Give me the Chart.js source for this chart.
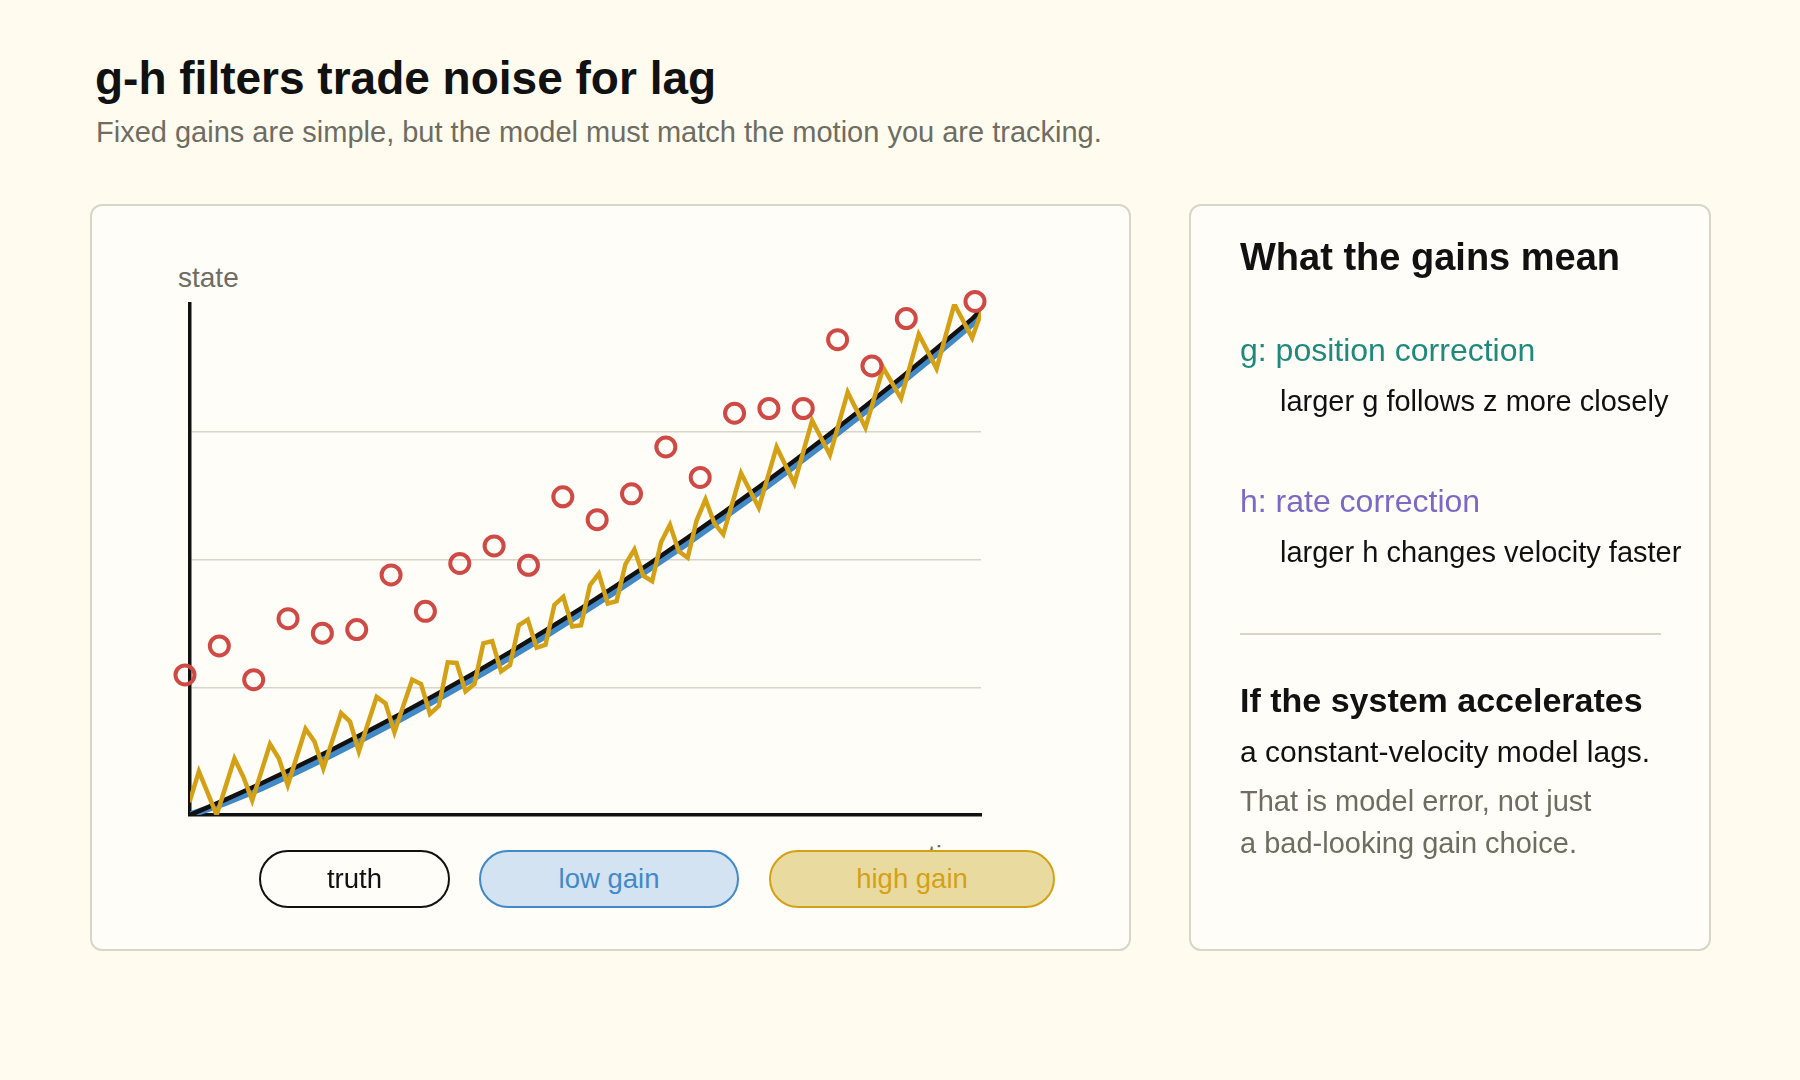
<!DOCTYPE html>
<html>
<head>
<meta charset="utf-8">
<script src="https://cdn.jsdelivr.net/npm/chart.js@4.4.1/dist/chart.umd.min.js"></script>
<style>
  html, body { margin: 0; padding: 0; background: #fffcef; }
  body { width: 1800px; height: 1080px; position: relative; overflow: hidden;
         font-family: "Liberation Sans", Arial, Helvetica, sans-serif; }
  .abs { position: absolute; white-space: nowrap; line-height: 1; }
  .card { position: absolute; box-sizing: border-box; border: 2px solid #d9d5c7;
          border-radius: 12px; background: #fffdf7; }
  #c { position: absolute; left: 0; top: 0; }
  .pill { position: absolute; box-sizing: border-box; height: 58px; border-radius: 29px;
          border: 2.5px solid; display: flex; align-items: center; justify-content: center;
          font-size: 27.5px; line-height: 1; white-space: nowrap; }
</style>
</head>
<body>
<div class="abs" style="left:95px;top:55px;font-size:46px;font-weight:bold;color:#111;">g-h filters trade noise for lag</div>
<div class="abs" style="left:96px;top:118px;font-size:29px;color:#6e6c63;">Fixed gains are simple, but the model must match the motion you are tracking.</div>

<div class="card" style="left:90px;top:204px;width:1041px;height:747px;"></div>
<div class="card" style="left:1189px;top:204px;width:522px;height:747px;"></div>

<div class="abs" style="left:178px;top:264px;font-size:28px;color:#6e6c63;">state</div>
<div class="abs" style="right:819px;top:842px;font-size:28px;color:#6e6c63;">time</div>

<canvas id="c" width="1800" height="1080"></canvas>
<div id="legend"></div>

<div class="abs" style="left:1240px;top:238px;font-size:38px;font-weight:bold;color:#111;">What the gains mean</div>
<div class="abs" style="left:1240px;top:334px;font-size:32px;color:#1f8a7c;">g: position correction</div>
<div class="abs" style="left:1280px;top:387px;font-size:29px;color:#111;">larger g follows z more closely</div>
<div class="abs" style="left:1240px;top:485px;font-size:32px;color:#7b69c6;">h: rate correction</div>
<div class="abs" style="left:1280px;top:538px;font-size:29px;color:#111;">larger h changes velocity faster</div>
<div style="position:absolute;left:1240px;top:633px;width:421px;height:2px;background:#d9d5c7;"></div>
<div class="abs" style="left:1240px;top:683px;font-size:34px;font-weight:bold;color:#111;">If the system accelerates</div>
<div class="abs" style="left:1240px;top:737px;font-size:30px;color:#111;">a constant-velocity model lags.</div>
<div class="abs" style="left:1240px;top:787px;font-size:29px;color:#6e6c63;">That is model error, not just</div>
<div class="abs" style="left:1240px;top:829px;font-size:29px;color:#6e6c63;">a bad-looking gain choice.</div>

<script>
// ---- data ----
// noisy measurements z (one per measurement step)
const measurements = [10.96, 13.23, 10.59, 15.37, 14.23, 14.52, 18.79, 15.94, 19.69, 21.06, 19.55, 24.91,
                      23.12, 25.14, 28.81, 26.42, 31.45, 31.82, 31.82, 37.21, 35.15, 38.86, 41.61, 40.20];

// high-gain estimate, one value per filter sample (0..89)
const highGain = [
  1.14, 3.41, 1.71, 0.00, 2.21, 4.42, 2.99, 1.14, 3.34, 5.55,
  4.42, 2.33, 4.54, 6.75, 5.75, 3.64, 5.80, 7.97, 7.32, 4.98,
  7.12, 9.25, 8.74, 6.49, 8.54, 10.59, 10.25, 7.91, 8.54, 11.95,
  11.90, 9.68, 10.25, 13.43, 13.61, 11.24, 11.73, 14.86, 15.29, 13.10,
  13.32, 16.45, 17.08, 14.75, 14.86, 17.99, 18.90, 16.56, 16.74, 19.64,
  20.78, 18.73, 18.30, 21.35, 22.72, 20.63, 20.13, 23.05, 24.71, 22.83,
  21.97, 24.36, 26.76, 25.40, 24.06, 26.43, 28.81, 27.38, 25.96, 28.42,
  30.88, 29.53, 28.18, 30.64, 33.10, 31.71, 30.32, 32.67, 35.01, 33.80,
  32.60, 35.11, 37.63, 36.29, 34.95, 37.47, 39.99, 38.67, 37.35, 39.28
];

// smooth curves, read at every 4th filter sample
const curveSamples = [0, 4, 8, 12, 16, 20, 24, 28, 32, 36, 40, 44, 48, 52, 56, 60, 64, 68, 72, 76, 80, 84, 88, 89];
const truth   = [0, 1.20, 2.46, 3.77, 5.13, 6.55, 8.02, 9.55, 11.12, 12.75, 14.44, 16.18,
                 17.97, 19.82, 21.71, 23.67, 25.67, 27.73, 29.84, 32.01, 34.23, 36.51, 38.83, 39.55];
const lowGain = [0, 0.98, 2.12, 3.39, 4.75, 6.17, 7.64, 9.17, 10.74, 12.37, 14.06, 15.80,
                 17.59, 19.44, 21.33, 23.29, 25.29, 27.35, 29.46, 31.63, 33.85, 36.13, 38.45, 39.17];

const seriesNames = ['truth', 'low gain', 'high gain'];
const yTicks = [0, 10, 20, 30, 40];

// ---- styles ----
const RED = '#cf4a44', GOLD = '#d4a116', BLUE = '#4189c7', INK = '#111111', GRID = '#d8d4c8';

const pts = (xs, ys) => ys.map((y, i) => ({ x: xs[i], y }));
const sampleIdx = highGain.map((_, i) => i);
const measIdx = measurements.map((_, i) => i);

const chart = new Chart(document.getElementById('c'), {
  type: 'line',
  data: {
    datasets: [
      { label: 'measurements', type: 'scatter', xAxisID: 'xm', data: pts(measIdx, measurements),
        showLine: false, pointRadius: 9.5, pointHoverRadius: 9.5, pointBorderWidth: 4,
        borderColor: RED, backgroundColor: 'rgba(0,0,0,0)', clip: false },
      { label: seriesNames[2], data: pts(sampleIdx, highGain), borderColor: GOLD, borderWidth: 4.5,
        pointRadius: 0, tension: 0, fill: false, borderCapStyle: 'round' },
      { label: seriesNames[0], data: pts(curveSamples, truth), borderColor: INK, borderWidth: 4.5,
        pointRadius: 0, tension: 0, fill: false, borderCapStyle: 'round' },
      { label: seriesNames[1], data: pts(curveSamples, lowGain), borderColor: BLUE, borderWidth: 7,
        pointRadius: 0, tension: 0, fill: false, borderCapStyle: 'round' }
    ]
  },
  options: {
    responsive: false, animation: false, devicePixelRatio: 1,
    events: [],
    layout: { padding: { left: 190, right: 819, top: 304, bottom: 265 } },
    plugins: { legend: { display: false }, tooltip: { enabled: false } },
    scales: {
      x: { type: 'linear', position: 'bottom', min: 0, max: highGain.length - 1,
           ticks: { display: false }, grid: { display: false, drawTicks: false },
           border: { display: true, color: INK, width: 3.5 },
           afterFit: s => { s.height = 0; } },
      xm: { type: 'linear', position: 'bottom', min: 0.146, max: 23.175, display: false },
      y: { type: 'linear', min: yTicks[0], max: yTicks[yTicks.length - 1],
           afterBuildTicks: s => { s.ticks = yTicks.map(v => ({ value: v })); },
           ticks: { display: false },
           grid: { drawTicks: false, lineWidth: 1.5,
                   color: c => (c.tick && (c.tick.value === yTicks[0] || c.tick.value === yTicks[yTicks.length - 1])) ? 'rgba(0,0,0,0)' : GRID },
           border: { display: true, color: INK, width: 3.5 },
           afterFit: s => { s.width = 0; } }
    }
  }
});

// ---- HTML legend built from the chart's series ----
const pillStyle = {
  'truth':     { left: 259, width: 191, fill: 'transparent', text: INK },
  'low gain':  { left: 479, width: 260, fill: '#d3e3f2', text: BLUE },
  'high gain': { left: 769, width: 286, fill: '#e9dba0', text: GOLD }
};
const legend = document.getElementById('legend');
seriesNames.forEach(name => {
  const ds = chart.data.datasets.find(d => d.label === name);
  const st = pillStyle[name];
  const el = document.createElement('div');
  el.className = 'pill';
  el.textContent = name;
  el.style.left = st.left + 'px';
  el.style.top = '850px';
  el.style.width = st.width + 'px';
  el.style.borderColor = ds.borderColor;
  el.style.background = st.fill;
  el.style.color = st.text;
  legend.appendChild(el);
});
</script>
</body>
</html>
